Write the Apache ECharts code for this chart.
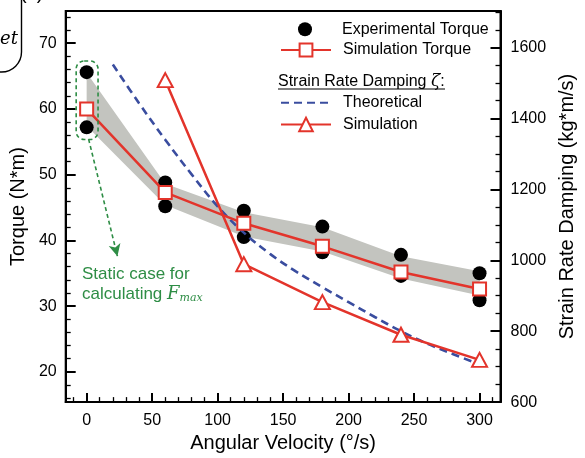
<!DOCTYPE html>
<html><head><meta charset="utf-8">
<script src="https://cdn.jsdelivr.net/npm/echarts@6/dist/echarts.min.js"></script>
<style>html,body{margin:0;padding:0;background:#fff}#c{width:585px;height:458px}</style>
</head><body><div id="c"></div>
<script>
// ---- data ----
const velocities = [0, 60, 120, 180, 240, 300];
const expTorqueHigh = [65.6, 48.8, 44.5, 42.1, 37.8, 35.0];
const expTorqueLow = [57.2, 45.2, 40.5, 38.2, 34.6, 30.9];
const simTorque = [60.0, 47.3, 42.6, 39.1, 35.2, 32.6];
const bandUpper = [65.5, 48.6, 44.3, 42.0, 37.6, 35.3];
const bandLower = [57.4, 45.4, 40.6, 38.3, 34.2, 31.6];
const simDampVel = [60, 120, 180, 240, 300];
const simDamping = [1508, 989, 882, 790, 719];
const theoVel = [20, 40, 60, 80, 100, 120, 140, 160, 180, 200, 220, 240, 260, 280, 300];
const theoDamping = [1552, 1443, 1340, 1243, 1152, 1078, 1018, 968, 924, 882, 840, 800, 765, 735, 706];
// ---- tick labels ----
const xTicks = [0, 50, 100, 150, 200, 250, 300];
const xMinorTicks = [-10, 10, 20, 30, 40, 60, 70, 80, 90, 110, 120, 130, 140, 160, 170, 180, 190, 210, 220, 230, 240, 260, 270, 280, 290, 310];
const torqueTicks = [20, 30, 40, 50, 60, 70];
const torqueMinorTicks = [16, 18, 22, 24, 26, 28, 32, 34, 36, 38, 42, 44, 46, 48, 52, 54, 56, 58, 62, 64, 66, 68, 72, 74];
const dampTicks = [600, 800, 1000, 1200, 1400, 1600];
const dampMinorTicks = [650, 700, 750, 850, 900, 950, 1050, 1100, 1150, 1250, 1300, 1350, 1450, 1500, 1550, 1650, 1700];

const FONT = 'Liberation Sans, Arial, Helvetica, sans-serif';
const RED = '#e3342b';
const BLUE = '#3a4d9f';
const GREEN = '#2e8d45';
const GRAY = '#c3c4bf';

const chart = echarts.init(document.getElementById('c'), null, {renderer: 'canvas'});

function plainLabel(v) { return String(v); }
function majorAxisBase(extra) {
  return Object.assign({
    type: 'value',
    splitLine: {show: false},
    axisLine: {show: true, onZero: false, lineStyle: {color: '#000', width: 2}},
    nameTextStyle: {color: '#000', fontSize: 20, fontFamily: FONT}
  }, extra);
}
function minorAxis(extra) {
  return Object.assign({
    type: 'value',
    splitLine: {show: false},
    axisLine: {show: false, onZero: false},
    axisLabel: {show: false}
  }, extra);
}

const expData = [];
velocities.forEach((v, i) => { expData.push([v, expTorqueHigh[i]]); expData.push([v, expTorqueLow[i]]); });

const legendText = {color: '#000', fontSize: 16, fontFamily: FONT, padding: [0, 0, 0, 7]};

const option = {
  animation: false,
  backgroundColor: '#fff',
  grid: {left: 64, right: 80, top: 11, bottom: 55, show: true, borderColor: '#000', borderWidth: 2, backgroundColor: 'transparent'},
  xAxis: [
    majorAxisBase({
      min: -16, max: 316, position: 'bottom',
      axisTick: {show: true, inside: true, length: 9, lineStyle: {color: '#000', width: 2}, customValues: xTicks},
      axisLabel: {color: '#000', fontSize: 16, fontFamily: FONT, margin: 10, customValues: xTicks, formatter: plainLabel},
      name: 'Angular Velocity (°/s)', nameLocation: 'middle', nameGap: 30
    }),
    minorAxis({
      min: -16, max: 316, position: 'bottom',
      axisTick: {show: true, inside: true, length: 5, lineStyle: {color: '#000', width: 1.3}, customValues: xMinorTicks}
    })
  ],
  yAxis: [
    majorAxisBase({
      min: 15.4, max: 74.9, position: 'left',
      axisTick: {show: true, inside: true, length: 10, lineStyle: {color: '#000', width: 2}, customValues: torqueTicks},
      axisLabel: {color: '#000', fontSize: 16, fontFamily: FONT, margin: 9, customValues: torqueTicks, formatter: plainLabel},
      name: 'Torque (N*m)', nameLocation: 'middle', nameGap: 31
    }),
    majorAxisBase({
      min: 600, max: 1703, position: 'right',
      axisTick: {show: true, inside: true, length: 10, lineStyle: {color: '#000', width: 2}, customValues: dampTicks},
      axisLabel: {color: '#000', fontSize: 16, fontFamily: FONT, margin: 10, customValues: dampTicks, formatter: plainLabel},
      name: 'Strain Rate Damping (kg*m/s)', nameLocation: 'middle', nameGap: 52
    }),
    minorAxis({
      min: 15.4, max: 74.9, position: 'left',
      axisTick: {show: true, inside: true, length: 5, lineStyle: {color: '#000', width: 1.3}, customValues: torqueMinorTicks}
    }),
    minorAxis({
      min: 600, max: 1703, position: 'right',
      axisTick: {show: true, inside: true, length: 5, lineStyle: {color: '#000', width: 1.3}, customValues: dampMinorTicks}
    })
  ],
  legend: [
    {data: [{name: 'Experimental Torque', icon: 'circle'}], left: 298, top: 21.3, itemWidth: 50, itemHeight: 14, padding: 0, selectedMode: false,
     itemStyle: {opacity: 1}, textStyle: legendText},
    {data: ['Simulation Torque'], left: 280, top: 42, itemWidth: 50, itemHeight: 16, padding: 0, selectedMode: false,
     textStyle: legendText},
    {data: ['Theoretical'], left: 280, top: 94.7, itemWidth: 50, itemHeight: 14, padding: 0, selectedMode: false,
     itemStyle: {color: 'rgba(0,0,0,0)', borderColor: 'rgba(0,0,0,0)', borderWidth: 0, opacity: 0},
     textStyle: legendText},
    {data: ['Simulation'], left: 280, top: 116.5, itemWidth: 50, itemHeight: 17, padding: 0, selectedMode: false,
     textStyle: legendText}
  ],
  series: [
    {
      name: 'band', type: 'custom', coordinateSystem: 'cartesian2d', xAxisIndex: 0, yAxisIndex: 0,
      data: [[velocities[0], bandUpper[0]]], z: 1, silent: true,
      renderItem: function (params, api) {
        const pts = [];
        for (let i = 0; i < velocities.length; i++) pts.push(api.coord([velocities[i], bandUpper[i]]));
        for (let i = velocities.length - 1; i >= 0; i--) pts.push(api.coord([velocities[i], bandLower[i]]));
        return {type: 'polygon', shape: {points: pts}, style: {fill: GRAY}};
      }
    },
    {
      name: 'Experimental Torque', type: 'scatter', xAxisIndex: 0, yAxisIndex: 0,
      data: expData, symbol: 'circle', symbolSize: 14, z: 3,
      itemStyle: {color: '#000', opacity: 1}
    },
    {
      name: 'Theoretical', type: 'line', xAxisIndex: 0, yAxisIndex: 1,
      data: theoVel.map((v, i) => [v, theoDamping[i]]), smooth: 0.4, symbol: 'none', z: 4,
      color: BLUE,
      lineStyle: {color: BLUE, width: 2.6, type: [8, 5]}
    },
    {
      name: 'Simulation', type: 'line', xAxisIndex: 0, yAxisIndex: 1,
      data: simDampVel.map((v, i) => [v, simDamping[i]]), symbol: 'triangle', symbolSize: [15, 14], z: 5,
      color: RED,
      lineStyle: {color: RED, width: 2.5},
      itemStyle: {color: '#fff', borderColor: RED, borderWidth: 2}
    },
    {
      name: 'Simulation Torque', type: 'line', xAxisIndex: 0, yAxisIndex: 0,
      data: velocities.map((v, i) => [v, simTorque[i]]), symbol: 'rect', symbolSize: 13, z: 6,
      color: RED,
      lineStyle: {color: RED, width: 2.5},
      itemStyle: {color: '#fff', borderColor: RED, borderWidth: 2},
      markLine: {
        silent: true, symbol: ['none', 'arrow'], symbolSize: [9, 12],
        label: {show: false},
        lineStyle: {color: GREEN, width: 1.6, type: [4, 3], curveness: -0.07},
        data: [[{coord: [1.5, 55.4]}, {coord: [23.5, 37.6]}]]
      }
    }
  ]
};
chart.setOption(option);

// annotations positioned through the axes
const p1 = chart.convertToPixel({xAxisIndex: 0, yAxisIndex: 0}, [-8, 67.3]);
const p2 = chart.convertToPixel({xAxisIndex: 0, yAxisIndex: 0}, [8.7, 55.35]);
chart.setOption({
  graphic: [
    {type: 'rect', shape: {x: p1[0], y: p1[1], width: p2[0] - p1[0], height: p2[1] - p1[1], r: 8},
     style: {fill: 'none', stroke: GREEN, lineWidth: 1.6, lineDash: [4, 3]}, z: 10},
    {type: 'text', left: 82, top: 266, z: 10,
     style: {text: 'Static case for', fill: GREEN, font: '17px ' + FONT}},
    {type: 'text', left: 82, top: 285, z: 10,
     style: {text: '{a|calculating }{f|F}{s|max}', fill: GREEN,
       rich: {a: {fontSize: 17, fontFamily: FONT, color: GREEN},
              f: {fontSize: 18, fontFamily: 'DejaVu Serif, serif', fontStyle: 'italic', color: GREEN},
              s: {fontSize: 11, fontFamily: 'DejaVu Serif, serif', fontStyle: 'italic', color: GREEN, padding: [9, 0, 0, 0]}}}},
    {type: 'text', left: 278, top: 73, z: 10,
     style: {text: '{a|Strain Rate Damping }{z|ζ}{a|:}', fill: '#000',
       rich: {a: {fontSize: 16, fontFamily: FONT, color: '#000'},
              z: {fontSize: 17, fontFamily: 'DejaVu Serif, serif', fontStyle: 'italic', color: '#000'}}}},
    {type: 'line', shape: {x1: 278, y1: 89, x2: 445, y2: 89}, style: {stroke: '#000', lineWidth: 1.2}, z: 10},
    // fragments of neighbouring panel / cut-off heading visible at the edges
    {type: 'rect', shape: {x: -62, y: -30, width: 83.5, height: 102, r: 20}, style: {fill: 'none', stroke: '#000', lineWidth: 1.4}, z: 10},
    {type: 'text', left: 0, top: 30, z: 10, style: {text: 'et', fill: '#000', font: 'italic 18px DejaVu Serif, serif'}},
    {type: 'text', left: 20, top: -17, z: 10, style: {text: '(c)', fill: '#000', font: '20px ' + FONT}}
  ]
});
</script>
</body></html>
